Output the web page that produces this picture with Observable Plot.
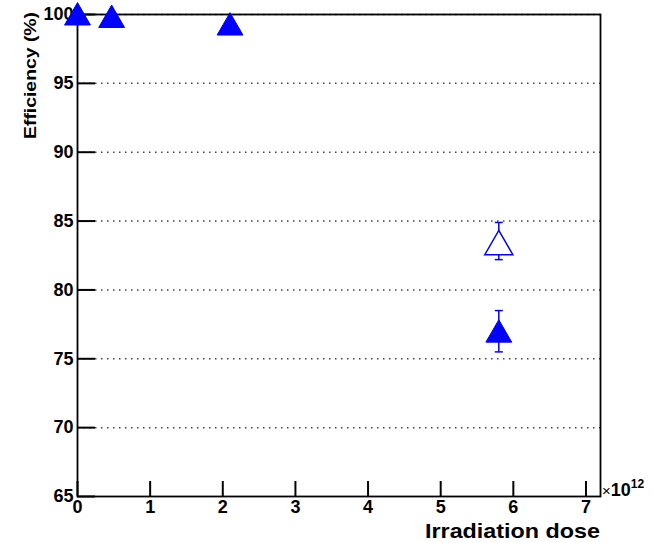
<!DOCTYPE html>
<html><head><meta charset="utf-8">
<script src="https://cdn.jsdelivr.net/npm/d3@7"></script>
<script src="https://cdn.jsdelivr.net/npm/@observablehq/plot@0.6"></script>
<style>body{margin:0;background:#fff} #chart{width:653px;height:543px}</style>
</head><body><div id="chart"></div>
<script>
// Data
const doseFilled = [0, 0.47, 2.1, 5.8];
const effFilled = [99.78, 99.6, 99.05, 76.75];
const doseOpen = [5.8];
const effOpen = [83.15];
const errDose = [5.8, 5.8];
const errLow = [75.5, 82.2];
const errHigh = [78.5, 84.9];
const xTicks = [0, 1, 2, 3, 4, 5, 6, 7];
const yTicks = [65, 70, 75, 80, 85, 90, 95, 100];
const gridY = [70, 75, 80, 85, 90, 95, 100];
const xLabel = "Irradiation dose";
const yLabel = "Efficiency (%)";

const W = 653, H = 543, mL = 77, mR = 53, mT = 14, mB = 47;
const xMin = 0, xMax = 7.2, yMin = 65, yMax = 100;
// inward tick lengths (pixels) converted to data units
const xTickLen = (yMax - yMin) * 15 / (H - mT - mB);
const yTickLen = (xMax - xMin) * 18 / (W - mL - mR);

const blue = "#0000ff";
const filled = doseFilled.map((d, i) => ({x: d, y: effFilled[i]}));
const open = doseOpen.map((d, i) => ({x: d, y: effOpen[i]}));
const errs = errDose.map((d, i) => ({x: d, lo: errLow[i], hi: errHigh[i]}));
const caps = errs.flatMap(e => [{x: e.x, y: e.lo}, {x: e.x, y: e.hi}]);
const capSymbol = {draw(ctx) { ctx.moveTo(-4, 0); ctx.lineTo(4, 0); }};

const svg = Plot.plot({
  width: W, height: H,
  marginLeft: mL, marginRight: mR, marginTop: mT, marginBottom: mB,
  x: {domain: [xMin, xMax]},
  y: {domain: [yMin, yMax]},
  style: {fontFamily: "'Liberation Sans', Arial, sans-serif", background: "white", color: "black"},
  marks: [
    Plot.ruleY(gridY, {stroke: "#444", strokeDasharray: "1.5,4.5", strokeWidth: 1.5}),
    Plot.axisX(xTicks, {tickSize: 0, tickPadding: 4, fontSize: 18, fontWeight: "bold", label: null}),
    Plot.axisY(yTicks, {tickSize: 0, tickPadding: 4, fontSize: 18, fontWeight: "bold", label: null}),
    Plot.frame({stroke: "black", strokeWidth: 1.8}),
    Plot.ruleX(xTicks, {x: d => d, y1: yMin, y2: yMin + xTickLen, stroke: "black", strokeWidth: 2}),
    Plot.ruleY(yTicks, {y: d => d, x1: xMin, x2: xMin + yTickLen, stroke: "black", strokeWidth: 2}),
    Plot.ruleX(errs, {x: "x", y1: "lo", y2: "hi", stroke: blue, strokeWidth: 1.5}),
    Plot.dot(caps, {x: "x", y: "y", symbol: capSymbol, stroke: blue, strokeWidth: 1.5, r: 4}),
    Plot.dot(filled, {x: "x", y: "y", symbol: "triangle", r: 9.6, fill: blue, stroke: blue, strokeWidth: 1}),
    Plot.dot(open, {x: "x", y: "y", symbol: "triangle", r: 10.4, fill: "white", stroke: blue, strokeWidth: 1.5})
  ]
});

const s = d3.select(svg);
s.append("text")
  .attr("x", 600).attr("y", 538)
  .attr("text-anchor", "end")
  .attr("font-size", 21).attr("font-weight", "bold")
  .attr("textLength", 175).attr("lengthAdjust", "spacingAndGlyphs")
  .attr("fill", "black")
  .text(xLabel);
s.append("text")
  .attr("transform", "translate(36,12) rotate(-90)")
  .attr("text-anchor", "end")
  .attr("font-size", 17).attr("font-weight", "bold")
  .attr("textLength", 127).attr("lengthAdjust", "spacingAndGlyphs")
  .attr("fill", "black")
  .text(yLabel);
const exp = s.append("text")
  .attr("x", 602).attr("y", 496)
  .attr("text-anchor", "start")
  .attr("font-size", 18).attr("fill", "black");
exp.append("tspan").attr("font-size", 15).text("×");
exp.append("tspan").attr("font-weight", "bold").text("10");
exp.append("tspan").attr("font-weight", "bold").attr("font-size", 12).attr("dy", -8).text("12");

document.getElementById("chart").appendChild(svg);
</script>
</body></html>
